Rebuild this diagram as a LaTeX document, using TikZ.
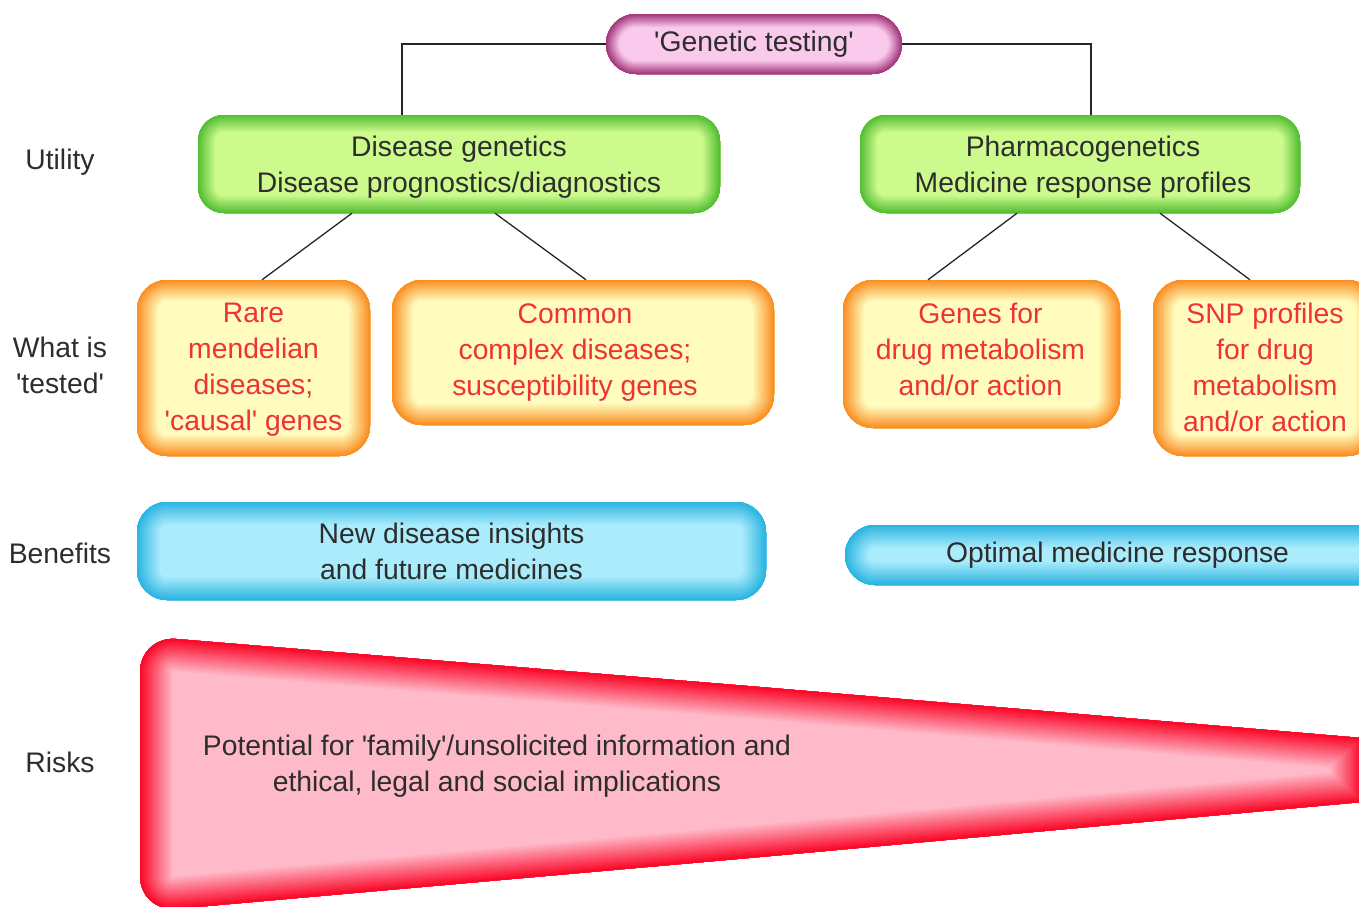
\documentclass[tikz,border=0pt]{standalone}
\usepackage{fontspec}
\setmainfont{Liberation Sans}

\definecolor{ink}{RGB}{45,45,45}
\definecolor{redtext}{RGB}{238,50,58}
\definecolor{greenout}{RGB}{78,188,48}
\definecolor{greenin}{RGB}{205,250,140}
\definecolor{orangeout}{RGB}{250,138,28}
\definecolor{orangein}{RGB}{255,252,190}
\definecolor{blueout}{RGB}{38,178,224}
\definecolor{bluein}{RGB}{170,236,252}
\definecolor{pinkout}{RGB}{160,48,118}
\definecolor{pinkin}{RGB}{250,202,236}
\definecolor{redout}{RGB}{250,0,32}
\definecolor{redin}{RGB}{255,186,202}

% soft inner glow: bands of the outline, from the inner colour to the outer one
\newcommand\glowbands[4]{%
  \foreach \k in {0,...,19}{%
    \pgfmathsetmacro\lw{2*#3*(1-\k/20)}%
    \pgfmathtruncatemacro\pp{100*(1-\k/20)}%
    \draw[line width=\lw pt, draw=#2!\pp!#1, rounded corners=#4]
      (path picture bounding box.south west) rectangle
      (path picture bounding box.north east);
  }}

% outline of the risks wedge: round corners on the left, square tip on the right
\newcommand\riskpath{(140,770) [rounded corners=36pt] -- (140,636)
  -- (760,687) [sharp corners] -- (1362,738) -- (1362,802) -- (760,857)
  [rounded corners=36pt] -- (140,912) -- cycle}

% centred block of lines with extra room on the right or below
\newcommand\lines[3]{\begin{tabular}{@{}c@{\hspace{#1}}}#3\\[#2]\end{tabular}}

\tikzset{
  txt/.style={font=\fontsize{28.3}{36}\selectfont, align=center},
  glowbox/.style n args={4}{txt, fill=#2, rounded corners=#4, inner sep=0pt,
    path picture={\glowbands{#1}{#2}{#3}{#4}}},
  rootbox/.style={glowbox={pinkout}{pinkin}{14}{30pt}, text=ink},
  utilbox/.style={glowbox={greenout}{greenin}{18}{26pt}, text=ink},
  testbox/.style={glowbox={orangeout}{orangein}{22}{30pt}, text=redtext},
  benefitbox/.style={glowbox={blueout}{bluein}{24}{30pt}, text=ink},
  rowlabel/.style={txt, text=ink},
  link/.style={draw=black!85, line width=1.3pt},
}

\begin{document}
\begin{tikzpicture}[x=1pt, y=-1pt]
\useasboundingbox (0,0) rectangle (1359,906);
\clip (0,0) rectangle (1359,906);

% row labels
\node[rowlabel] (lutil) at (60,162) {Utility};
\node[rowlabel] (ltest) at (60,365) {What is\\\textquotesingle tested\textquotesingle};
\node[rowlabel] (lben)  at (60,553) {Benefits};
\node[rowlabel] (lrisk) at (60,762) {Risks};

% root
\node[rootbox, minimum width=296pt, minimum height=60pt] (root) at (754,44)
  {\textquotesingle Genetic testing\textquotesingle};

% utility
\node[utilbox, minimum width=522pt, minimum height=98pt] (dg) at (459,164)
  {\lines{0pt}{-6pt}{Disease genetics\\Disease prognostics/diagnostics}};
\node[utilbox, minimum width=440pt, minimum height=98pt] (pg) at (1080,164)
  {\lines{0pt}{-6pt}{Pharmacogenetics\\Medicine response profiles}\hspace*{-6pt}};

% what is tested
\node[testbox, minimum width=233pt, minimum height=176pt] (rare) at (253.5,368)
  {\lines{0pt}{-2pt}{Rare\\mendelian\\diseases;\\\textquotesingle causal\textquotesingle{} genes}};
\node[testbox, minimum width=382pt, minimum height=145pt] (common) at (583,352.5)
  {\lines{16pt}{0pt}{Common\\complex diseases;\\susceptibility genes}};
\node[testbox, minimum width=277pt, minimum height=148pt] (drug) at (981.5,354)
  {\lines{2pt}{4pt}{Genes for\\drug metabolism\\and/or action}};
\node[testbox, minimum width=224pt, minimum height=176pt] (snp) at (1265,368)
  {\lines{0pt}{-4pt}{SNP profiles\\for drug\\metabolism\\and/or action}};

% benefits
\node[benefitbox, minimum width=629pt, minimum height=98pt] (insight) at (451.5,551)
  {New disease insights\\and future medicines};
\node[benefitbox, minimum width=545pt, minimum height=60pt] (optimal) at (1117.5,555)
  {\lines{0pt}{0pt}{Optimal medicine response}};

% risks wedge
\begin{scope}
  \clip \riskpath;
  \fill[redin] (100,600) rectangle (1400,950);
  \foreach \k in {0,...,19}{%
    \pgfmathsetmacro\lw{2*34*(1-\k/20)}%
    \pgfmathtruncatemacro\pp{100*(1-\k/20)}%
    \draw[line width=\lw pt, draw=redin!\pp!redout] \riskpath;
  }
\end{scope}
\node[txt, text=ink] (risk) at (497,766)
  {Potential for \textquotesingle family\textquotesingle/unsolicited information and\\ethical, legal and social implications};

% connectors
\draw[link] (root.west) -| ([xshift=-57pt]dg.north);
\draw[link] (root.east) -| ([xshift=11pt]pg.north);
\draw[link] ([xshift=-107pt]dg.south) -- ([xshift=8.5pt]rare.north);
\draw[link] ([xshift=36pt]dg.south) -- ([xshift=3pt]common.north);
\draw[link] ([xshift=-63pt]pg.south) -- ([xshift=-53.5pt]drug.north);
\draw[link] ([xshift=80pt]pg.south) -- ([xshift=-15pt]snp.north);
\end{tikzpicture}
\end{document}
